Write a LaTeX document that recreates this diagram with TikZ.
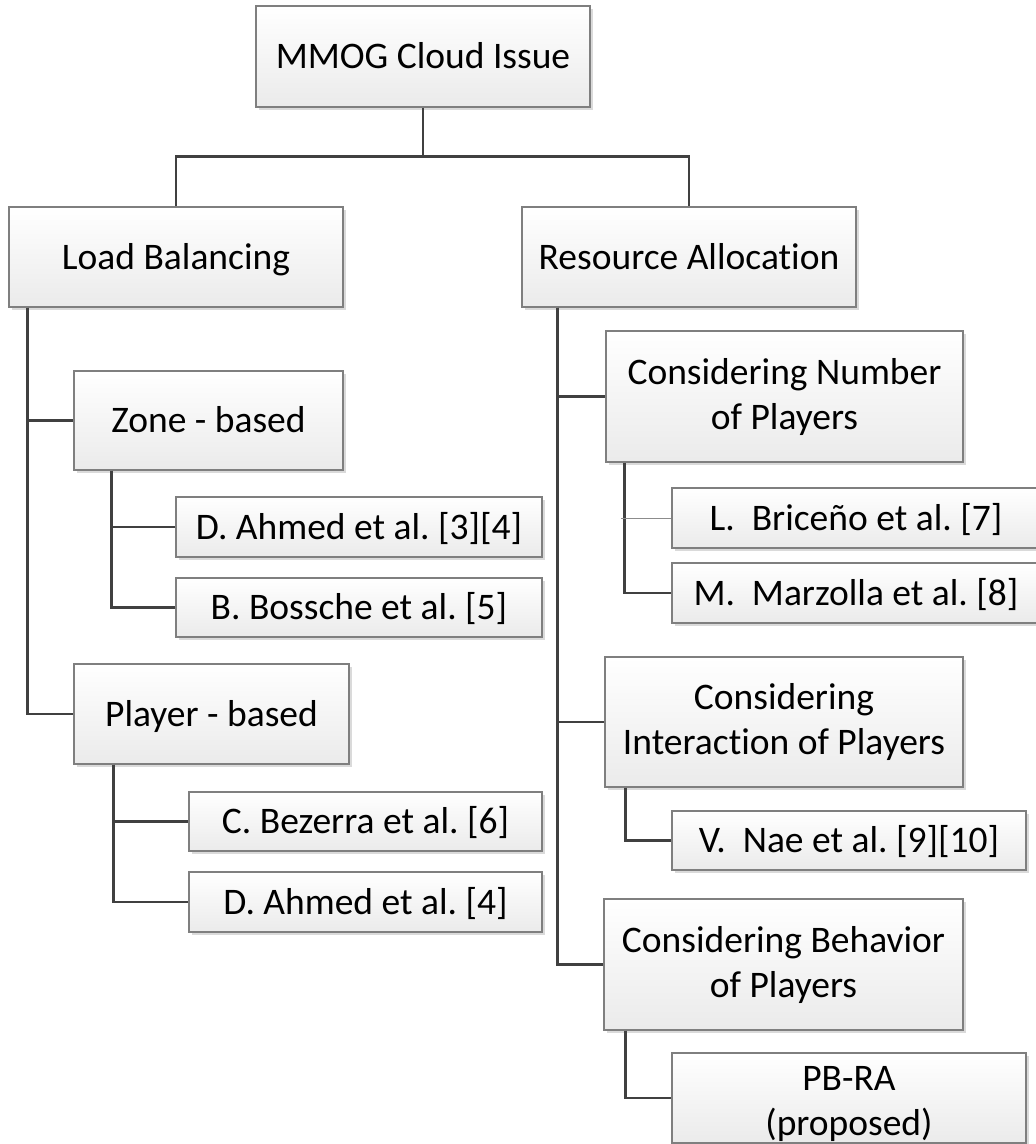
\documentclass[tikz,border=0pt]{standalone}
\usepackage{fontspec}
\setmainfont{Carlito}[Ligatures=NoCommon]
\usetikzlibrary{shadows,calc}
\definecolor{conncol}{HTML}{404040}
\definecolor{boxline}{HTML}{7F7F7F}
\begin{document}
\begin{tikzpicture}[x=1pt,y=-1pt,
  boxtext/.style={align=center, inner sep=2pt, font=\fontsize{37.5}{45}\selectfont\frenchspacing},
  treebox/.style={boxtext, draw=boxline, line width=1.1pt, top color=white, bottom color=black!8,
    drop shadow={shadow xshift=3pt, shadow yshift=-3pt, fill=black!18, opacity=0.8}},
  oneline/.style={treebox, text height=29pt, text depth=5pt},
  conn/.style={draw=conncol, line width=2.2pt},
  thinconn/.style={draw=black!45, line width=0.9pt}]
\useasboundingbox[fill=white] (0,0) rectangle (1036,1144);
% boxes
\node[oneline, minimum width=334pt, minimum height=101pt] (root) at (423,56.5) {MMOG Cloud Issue};
\node[oneline, minimum width=334pt, minimum height=100pt] (lb) at (176,257) {Load Balancing};
\node[oneline, minimum width=334pt, minimum height=100pt] (ra) at (689,257) {Resource Allocation};
\node[oneline, minimum width=269pt, minimum height=99pt] (zone) at (208.5,420.5) {Zone - based};
\node[oneline, minimum width=366pt, minimum height=60pt] (da34) at (359,527) {D. Ahmed et al. [3][4]};
\node[oneline, minimum width=366pt, minimum height=59pt] (bos) at (359,607.5) {B. Bossche et al. [5]};
\node[oneline, minimum width=275pt, minimum height=100pt] (player) at (211.5,714) {Player - based};
\node[oneline, minimum width=353pt, minimum height=59pt] (bez) at (365.5,821.5) {C. Bezerra et al. [6]};
\node[oneline, minimum width=353pt, minimum height=60pt] (da4) at (365.5,902) {D. Ahmed et al. [4]};
\node[treebox, minimum width=357pt, minimum height=131pt] (num) at (784.5,396.5) {Considering Number\\of Players};
\node[oneline, minimum width=368pt, minimum height=60pt] (bri) at (856,518) {L.\ \ Briceño et al. [7]};
\node[oneline, minimum width=368pt, minimum height=60pt] (mar) at (856,593) {M.\ \ Marzolla et al. [8]};
\node[treebox, minimum width=358pt, minimum height=130pt] (inter) at (784,722) {Considering\\Interaction of Players};
\node[oneline, minimum width=354pt, minimum height=59pt] (nae) at (849,840.5) {V.\ \ Nae et al. [9][10]};
\node[treebox, minimum width=359pt, minimum height=131pt] (beh) at (783.5,964.5) {Considering Behavior\\of Players};
\node[treebox, minimum width=354pt, minimum height=90pt] (pb) at (849,1098) {};
\node[boxtext] (pbtext) at ($(pb.center)+(0,6)$) {PB-RA\\(proposed)};
% connectors
\coordinate (j0) at ($(root.south)+(0,49)$);
\draw[conn] (root.south) -- (j0);
\draw[conn] (lb.north) |- (j0) -| (ra.north);
\draw[conn] ($(lb.south west)+(19,0)$) |- (player.west);
\draw[conn] ($(lb.south west)+(19,0)$) |- (zone.west);
\draw[conn] ($(zone.south west)+(38,0)$) |- (bos.west);
\draw[conn] ($(zone.south west)+(38,0)$) |- (da34.west);
\draw[conn] ($(player.south west)+(40,0)$) |- (da4.west);
\draw[conn] ($(player.south west)+(40,0)$) |- (bez.west);
\draw[conn] ($(ra.south west)+(36,0)$) |- (beh.west);
\draw[conn] ($(ra.south west)+(36,0)$) |- (inter.west);
\draw[conn] ($(ra.south west)+(36,0)$) |- (num.west);
\draw[conn] ($(num.south west)+(19,0)$) |- (mar.west);
\draw[thinconn] ($(bri.west)+(-50,0)$) -- (bri.west);
\draw[conn] ($(inter.south west)+(21,0)$) |- (nae.west);
\draw[conn] ($(beh.south west)+(22,0)$) |- (pb.west);
\end{tikzpicture}
\end{document}
